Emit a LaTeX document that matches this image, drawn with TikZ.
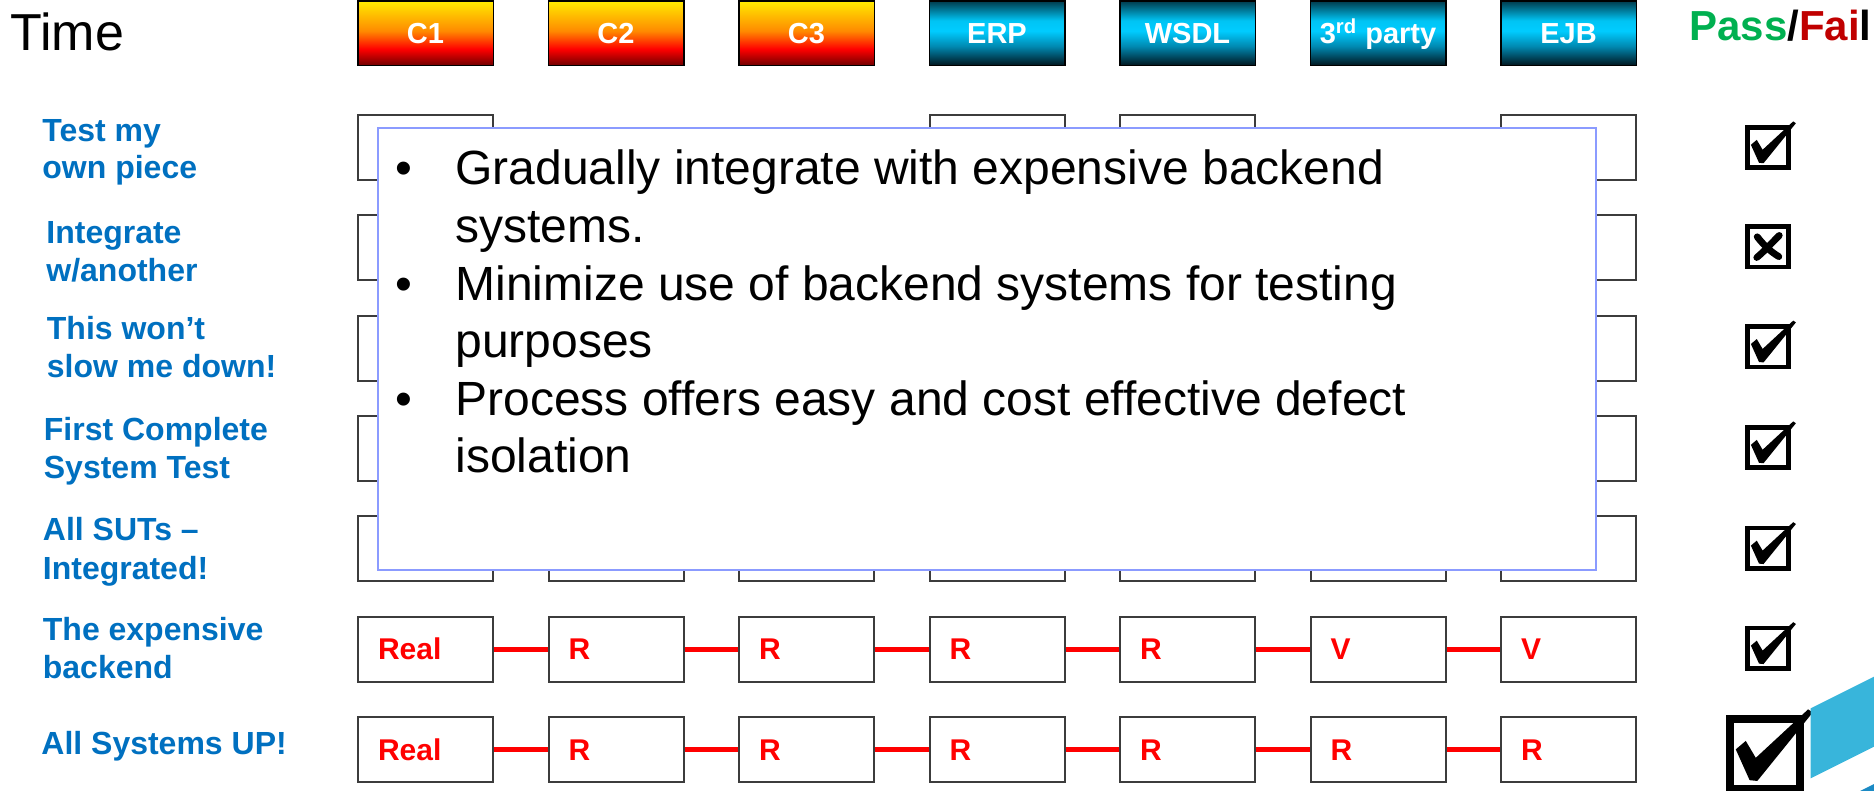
\documentclass[tikz,border=0pt]{standalone}
\usepackage{fontspec}
\setmainfont{Liberation Sans}

\definecolor{labelblue}{HTML}{0070C0}
\definecolor{passgreen}{HTML}{00B050}
\definecolor{failred}{HTML}{C00000}
\definecolor{notesedge}{HTML}{8B9BFF}
\definecolor{boxedge}{HTML}{3C3C3C}
\definecolor{sky}{HTML}{38B5DB}
\definecolor{deepsky}{HTML}{1B8AC4}
\definecolor{warmA}{HTML}{6E0000}
\definecolor{warmB}{HTML}{FF0000}
\definecolor{warmC}{HTML}{FF8A00}
\definecolor{warmD}{HTML}{FFEA00}
\definecolor{coolA}{HTML}{00141C}
\definecolor{coolB}{HTML}{0088B0}
\definecolor{coolC}{HTML}{00CCFF}
\definecolor{coolD}{HTML}{00C4F4}
\definecolor{coolE}{HTML}{003D4E}

% header fills: red/yellow for components, cyan for backends
\pgfdeclareverticalshading{warmbar}{100bp}{color(0bp)=(warmA); color(25bp)=(warmA); color(38bp)=(warmB); color(52bp)=(warmC); color(75bp)=(warmD); color(100bp)=(warmD)}
\pgfdeclareverticalshading{coolbar}{100bp}{color(0bp)=(coolA); color(25bp)=(coolA); color(40bp)=(coolB); color(52bp)=(coolC); color(60bp)=(coolD); color(75bp)=(coolE); color(100bp)=(coolE)}

\tikzset{
  pics/passmark/.style={code={
    \draw (-0.45,-0.45) rectangle (0.45,0.45);
    \fill (-0.38,-0.06) -- (-0.25,-0.17) -- (-0.12,0.05) -- (0.56,-0.58)
          -- (0.62,-0.54) -- (-0.10,0.35) -- (-0.20,0.34) -- cycle;
  }},
  pics/failmark/.style={code={
    \draw (-0.45,-0.45) rectangle (0.45,0.45);
    \draw[line width=3.4pt, line cap=round] (-0.24,-0.22) .. controls (-0.05,0.02) and (0.08,0.12) .. (0.24,0.22);
    \draw[line width=3.4pt, line cap=round] (0.25,-0.25) .. controls (0.05,-0.05) and (-0.08,0.10) .. (-0.25,0.24);
  }}
}

\begin{document}
\begin{tikzpicture}[x=0.5pt, y=-0.5pt,
  headbox/.style={draw=black, line width=0.75pt, minimum width=67.75pt,
    minimum height=32.25pt, inner sep=0pt, text=white,
    font=\fontsize{14.5}{17}\selectfont\bfseries, text height=10.4pt,
    text depth=-2pt, shade},
  warm/.style={headbox, shading=warmbar},
  cool/.style={headbox, shading=coolbar},
  rowbox/.style={draw=boxedge, line width=1pt, fill=white,
    minimum width=67.5pt, minimum height=32.5pt, inner xsep=10pt,
    inner ysep=0pt, text width=47.5pt, align=left, text height=10.75pt,
    text depth=0pt, text=red, font=\fontsize{15}{17}\selectfont\bfseries},
  redlink/.style={draw=red, line width=2.4pt},
  lbl/.style={anchor=base west, inner sep=0pt, text=labelblue,
    font=\fontsize{16}{19}\selectfont\bfseries},
  bodytext/.style={anchor=base west, inner sep=0pt,
    font=\fontsize{24}{29}\selectfont},
  bulletmark/.style={anchor=base, inner sep=0pt,
    font=\fontsize{24}{29}\selectfont},
  notesframe/.style={draw=notesedge, line width=1pt, fill=white,
    minimum width=609pt, minimum height=221pt, inner sep=0pt}
]
\useasboundingbox (0,0) rectangle (1874,791);

% title and verdict heading
\node[anchor=base west, inner sep=0pt, font=\fontsize{26}{30}\selectfont] (time) at (10,50.7) {Time};
\node[anchor=base west, inner sep=0pt, font=\fontsize{21}{25}\selectfont\bfseries] (verdict) at (1689,40.5)
  {\textcolor{passgreen}{Pass}/\textcolor{failred}{Fai}l};

% column headers
\node[warm] (h1) at (425.5,33.5) {C1};
\node[warm] (h2) at (616,33.5) {C2};
\node[warm] (h3) at (806.5,33.5) {C3};
\node[cool] (h4) at (997,33.5) {ERP};
\node[cool] (h5) at (1187.5,33.5) {WSDL};
\node[cool] (h6) at (1378,33.5) {3\textsuperscript{rd} party};
\node[cool] (h7) at (1568.5,33.5) {EJB};

% row labels
\node[lbl] (l1a) at (42,141.7) {Test my};
\node[lbl] (l1b) at (42,178.3) {own piece};
\node[lbl] (l2a) at (46,243.3) {Integrate};
\node[lbl] (l2b) at (46,281.7) {w/another};
\node[lbl] (l3a) at (46.5,339) {This won’t};
\node[lbl] (l3b) at (46.5,377.7) {slow me down!};
\node[lbl] (l4a) at (43.5,440.7) {First Complete};
\node[lbl] (l4b) at (43.5,478.3) {System Test};
\node[lbl] (l5a) at (42.5,540) {All SUTs –};
\node[lbl] (l5b) at (42.5,579.3) {Integrated!};
\node[lbl] (l6a) at (42.5,640) {The expensive};
\node[lbl] (l6b) at (42.5,678.7) {backend};
\node[lbl] (l7a) at (41,754) {All Systems UP!};

% system boxes per stage
\foreach \c in {1,4,5,7}
  \node[rowbox] (b1-\c) at ({425.5+190.5*(\c-1)},147.5) {};
\foreach \r/\y in {2/247.8,3/348.2,4/448.5}
  \foreach \c in {1,7}
    \node[rowbox] (b\r-\c) at ({425.5+190.5*(\c-1)},\y) {};
\foreach \c in {1,...,7}
  \node[rowbox] (b5-\c) at ({425.5+190.5*(\c-1)},548.8) {};
\foreach \c/\t in {1/Real,2/R,3/R,4/R,5/R,6/V,7/V}
  \node[rowbox] (b6-\c) at ({425.5+190.5*(\c-1)},649.2) {\t};
\foreach \c/\t in {1/Real,2/R,3/R,4/R,5/R,6/R,7/R}
  \node[rowbox] (b7-\c) at ({425.5+190.5*(\c-1)},749.5) {\t};

% chains of connected systems
\foreach \c [evaluate=\c as \n using int(\c+1)] in {1,...,6} {
  \draw[redlink] (b6-\c) -- (b6-\n);
  \draw[redlink] (b7-\c) -- (b7-\n);
}

% callout with the key points
\node[notesframe] (notes) at (986.8,349) {};
\node[bulletmark] (d1) at (404,185) {•};
\node[bodytext] (t1a) at (455,185) {Gradually integrate with expensive backend};
\node[bodytext] (t1b) at (455,242.5) {systems.};
\node[bulletmark] (d2) at (404,300) {•};
\node[bodytext] (t2a) at (455,300) {Minimize use of backend systems for testing};
\node[bodytext] (t2b) at (455,357.5) {purposes};
\node[bulletmark] (d3) at (404,415) {•};
\node[bodytext] (t3a) at (455,415) {Process offers easy and cost effective defect};
\node[bodytext] (t3b) at (455,472.5) {isolation};

% verdict marks
\pic[scale=45, line width=2.4pt] (m1) at (1768,147.5) {passmark};
\pic[scale=45, line width=2.4pt] (m2) at (1768,246.7) {failmark};
\pic[scale=45, line width=2.4pt] (m3) at (1768,346.7) {passmark};
\pic[scale=45, line width=2.4pt] (m4) at (1768,447.5) {passmark};
\pic[scale=45, line width=2.4pt] (m5) at (1768,548.3) {passmark};
\pic[scale=45, line width=2.4pt] (m6) at (1768,648.3) {passmark};
\pic[scale=77, line width=3.9pt] (m7) at (1765,754) {passmark};

% corner ribbon
\fill[sky] (1810.7,708.3) -- (1880,673.7) -- (1880,743.7) -- (1810.7,778.3) -- cycle;
\fill[deepsky] (1856,793) -- (1880,781) -- (1880,793) -- cycle;
\end{tikzpicture}
\end{document}
